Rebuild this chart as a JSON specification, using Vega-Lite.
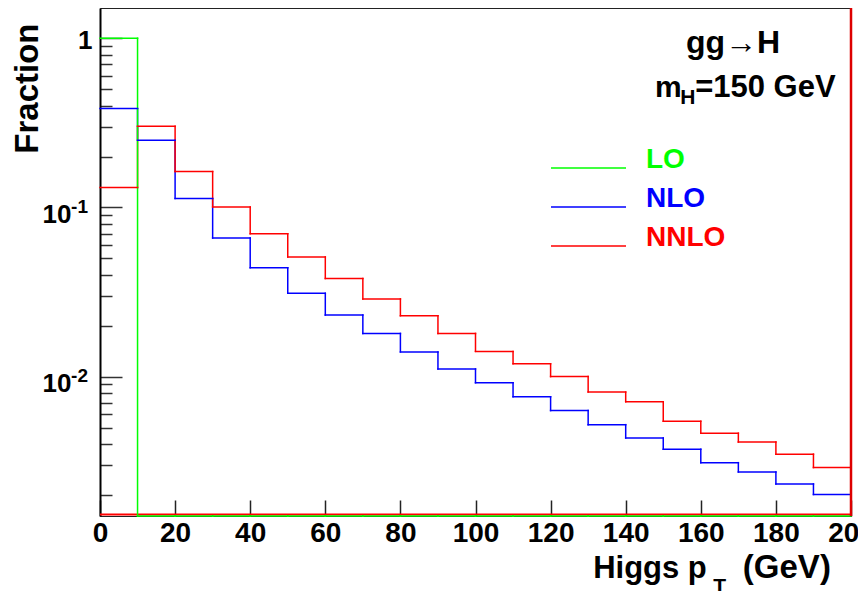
{
  "$schema": "https://vega.github.io/schema/vega-lite/v6.json",
  "width": 751,
  "height": 508,
  "autosize": {"type": "none"},
  "padding": {"left": 100, "top": 8, "right": 7, "bottom": 75},
  "background": "white",
  "config": {"view": {"stroke": "#222", "strokeWidth": 1}, "font": "Liberation Sans"},
  "data": {"values": [
    {"series": "NLO", "lo": 0, "hi": 10, "value": 0.384},
    {"series": "NLO", "lo": 10, "hi": 20, "value": 0.25},
    {"series": "NLO", "lo": 20, "hi": 30, "value": 0.113},
    {"series": "NLO", "lo": 30, "hi": 40, "value": 0.066},
    {"series": "NLO", "lo": 40, "hi": 50, "value": 0.044},
    {"series": "NLO", "lo": 50, "hi": 60, "value": 0.0311},
    {"series": "NLO", "lo": 60, "hi": 70, "value": 0.0231},
    {"series": "NLO", "lo": 70, "hi": 80, "value": 0.018},
    {"series": "NLO", "lo": 80, "hi": 90, "value": 0.014},
    {"series": "NLO", "lo": 90, "hi": 100, "value": 0.0111},
    {"series": "NLO", "lo": 100, "hi": 110, "value": 0.0092},
    {"series": "NLO", "lo": 110, "hi": 120, "value": 0.0076},
    {"series": "NLO", "lo": 120, "hi": 130, "value": 0.0063},
    {"series": "NLO", "lo": 130, "hi": 140, "value": 0.0052},
    {"series": "NLO", "lo": 140, "hi": 150, "value": 0.00434},
    {"series": "NLO", "lo": 150, "hi": 160, "value": 0.00372},
    {"series": "NLO", "lo": 160, "hi": 170, "value": 0.0031},
    {"series": "NLO", "lo": 170, "hi": 180, "value": 0.00273},
    {"series": "NLO", "lo": 180, "hi": 190, "value": 0.00232},
    {"series": "NLO", "lo": 190, "hi": 200, "value": 0.00201},
    {"series": "NNLO", "lo": 0, "hi": 10, "value": 0.131},
    {"series": "NNLO", "lo": 10, "hi": 20, "value": 0.302},
    {"series": "NNLO", "lo": 20, "hi": 30, "value": 0.163},
    {"series": "NNLO", "lo": 30, "hi": 40, "value": 0.1007},
    {"series": "NNLO", "lo": 40, "hi": 50, "value": 0.07},
    {"series": "NNLO", "lo": 50, "hi": 60, "value": 0.051},
    {"series": "NNLO", "lo": 60, "hi": 70, "value": 0.038},
    {"series": "NNLO", "lo": 70, "hi": 80, "value": 0.0288},
    {"series": "NNLO", "lo": 80, "hi": 90, "value": 0.0229},
    {"series": "NNLO", "lo": 90, "hi": 100, "value": 0.018},
    {"series": "NNLO", "lo": 100, "hi": 110, "value": 0.0141},
    {"series": "NNLO", "lo": 110, "hi": 120, "value": 0.0119},
    {"series": "NNLO", "lo": 120, "hi": 130, "value": 0.01},
    {"series": "NNLO", "lo": 130, "hi": 140, "value": 0.0081},
    {"series": "NNLO", "lo": 140, "hi": 150, "value": 0.0071},
    {"series": "NNLO", "lo": 150, "hi": 160, "value": 0.00545},
    {"series": "NNLO", "lo": 160, "hi": 170, "value": 0.00463},
    {"series": "NNLO", "lo": 170, "hi": 180, "value": 0.0041},
    {"series": "NNLO", "lo": 180, "hi": 190, "value": 0.00348},
    {"series": "NNLO", "lo": 190, "hi": 200, "value": 0.0029},
    {"series": "LO", "lo": 0, "hi": 10, "value": 1.0},
    {"series": "LO", "lo": 10, "hi": 20, "value": 0},
    {"series": "LO", "lo": 20, "hi": 30, "value": 0},
    {"series": "LO", "lo": 30, "hi": 40, "value": 0},
    {"series": "LO", "lo": 40, "hi": 50, "value": 0},
    {"series": "LO", "lo": 50, "hi": 60, "value": 0},
    {"series": "LO", "lo": 60, "hi": 70, "value": 0},
    {"series": "LO", "lo": 70, "hi": 80, "value": 0},
    {"series": "LO", "lo": 80, "hi": 90, "value": 0},
    {"series": "LO", "lo": 90, "hi": 100, "value": 0},
    {"series": "LO", "lo": 100, "hi": 110, "value": 0},
    {"series": "LO", "lo": 110, "hi": 120, "value": 0},
    {"series": "LO", "lo": 120, "hi": 130, "value": 0},
    {"series": "LO", "lo": 130, "hi": 140, "value": 0},
    {"series": "LO", "lo": 140, "hi": 150, "value": 0},
    {"series": "LO", "lo": 150, "hi": 160, "value": 0},
    {"series": "LO", "lo": 160, "hi": 170, "value": 0},
    {"series": "LO", "lo": 170, "hi": 180, "value": 0},
    {"series": "LO", "lo": 180, "hi": 190, "value": 0},
    {"series": "LO", "lo": 190, "hi": 200, "value": 0}
  ]},
  "layer": [
    {
      "data": {"values": [{}]},
      "mark": {"type": "rule", "color": "#ff0000", "strokeWidth": 2, "yOffset": -1.5},
      "encoding": {
        "y": {"datum": 0.0015, "type": "quantitative", "scale": {"type": "log", "domain": [0.0015, 1.51], "nice": false, "clamp": true},
          "axis": {
            "values": [0.002, 0.003, 0.004, 0.005, 0.006, 0.007, 0.008, 0.009, 0.01, 0.02, 0.03, 0.04, 0.05, 0.06, 0.07, 0.08, 0.09, 0.1, 0.2, 0.3, 0.4, 0.5, 0.6, 0.7, 0.8, 0.9, 1],
            "labelExpr": "datum.value == 1 ? '1' : (datum.value == 0.1 || datum.value == 0.01 ? '10' : '')",
            "tickSize": {"condition": {"test": "datum.value == 1 || datum.value == 0.1 || datum.value == 0.01", "value": -22}, "value": -12},
            "tickColor": "#333", "tickWidth": 1.5,
            "domainColor": "#000", "domainWidth": 2,
            "grid": false,
            "labelFont": "Liberation Sans", "labelFontSize": 26, "labelFontWeight": "bold", "labelColor": "#000",
            "labelPadding": {"condition": {"test": "datum.value == 1", "value": 30}, "value": 51},
            "labelOffset": {"condition": {"test": "datum.value == 1", "value": 2.5}, "value": 7},
            "labelBaseline": "middle",
            "title": "Fraction", "titleFont": "Liberation Sans", "titleFontSize": 33, "titleFontWeight": "bold", "titleColor": "#000",
            "titleAngle": -90, "titleAlign": "right", "titleBaseline": "alphabetic", "titleX": -63, "titleY": 15
          }
        }
      }
    },
    {
      "transform": [
        {"window": [{"op": "lag", "field": "value", "as": "prev"}], "groupby": ["series"], "sort": [{"field": "lo", "order": "ascending"}]},
        {"filter": "datum.prev != null"}
      ],
      "mark": {"type": "rule", "strokeWidth": 1.5, "invalid": "show", "strokeCap": "square"},
      "encoding": {
        "x": {"field": "lo", "type": "quantitative", "scale": {"domain": [0, 200], "nice": false, "zero": false},
          "axis": {
            "values": [0, 5, 10, 15, 20, 25, 30, 35, 40, 45, 50, 55, 60, 65, 70, 75, 80, 85, 90, 95, 100, 105, 110, 115, 120, 125, 130, 135, 140, 145, 150, 155, 160, 165, 170, 175, 180, 185, 190, 195, 200],
            "labelExpr": "datum.value % 20 == 0 ? format(datum.value, 'd') : ''",
            "tickSize": {"condition": {"test": "datum.value % 20 == 0", "value": -16}, "value": -8},
            "tickColor": "#222", "tickWidth": 1.5,
            "domain": false, "grid": false,
            "labelFont": "Liberation Sans", "labelFontSize": 28, "labelFontWeight": "bold", "labelColor": "#000",
            "labelPadding": 19, "labelFlush": false, "labelOverlap": false,
            "title": null
          }
        },
        "y": {"field": "prev", "type": "quantitative"},
        "y2": {"field": "value"},
        "color": {"field": "series", "type": "nominal", "scale": {"domain": ["LO", "NLO", "NNLO"], "range": ["#00ff00", "#0000ff", "#ff0000"]},
          "legend": {
            "orient": "none", "legendX": 450, "legendY": 146, "title": null,
            "symbolType": "stroke", "symbolSize": 5625, "symbolStrokeWidth": 1.5,
            "labelFont": "Liberation Sans", "labelFontSize": 28, "labelFontWeight": "bold", "labelBaseline": "alphabetic",
            "labelOffset": 19, "clipHeight": 28, "rowPadding": 3, "padding": 0,
            "encode": {"labels": {"update": {"fill": {"scale": "color", "field": "value"}}}}
          }
        }
      }
    },
    {
      "mark": {"type": "rule", "strokeWidth": 1.5, "invalid": "show", "strokeCap": "square"},
      "encoding": {
        "x": {"field": "lo", "type": "quantitative"},
        "x2": {"field": "hi"},
        "y": {"field": "value", "type": "quantitative"},
        "color": {"field": "series", "type": "nominal"}
      }
    },
    {
      "data": {"values": [{}]},
      "mark": {"type": "rule", "color": "#dd0000", "strokeWidth": 2.5},
      "encoding": {"x": {"datum": 200, "type": "quantitative"}}
    },
    {
      "data": {"values": [{}]},
      "mark": {"type": "text", "text": "-1", "font": "Liberation Sans", "fontSize": 19, "fontWeight": "bold", "align": "right", "baseline": "alphabetic", "color": "#000", "dx": -12, "dy": 6},
      "encoding": {"x": {"datum": 0, "type": "quantitative"}, "y": {"datum": 0.1, "type": "quantitative"}}
    },
    {
      "data": {"values": [{}]},
      "mark": {"type": "text", "text": "-2", "font": "Liberation Sans", "fontSize": 19, "fontWeight": "bold", "align": "right", "baseline": "alphabetic", "color": "#000", "dx": -12, "dy": 5},
      "encoding": {"x": {"datum": 0, "type": "quantitative"}, "y": {"datum": 0.01, "type": "quantitative"}}
    },
    {
      "data": {"values": [{}]},
      "mark": {"type": "text", "text": "gg→H", "font": "Liberation Sans", "fontSize": 32, "fontWeight": "bold", "align": "center", "baseline": "alphabetic", "color": "#000"},
      "encoding": {"x": {"datum": 168.6, "type": "quantitative"}, "y": {"datum": 0.815, "type": "quantitative"}}
    },
    {
      "data": {"values": [{}]},
      "mark": {"type": "text", "text": "m", "font": "Liberation Sans", "fontSize": 30, "fontWeight": "bold", "align": "left", "baseline": "alphabetic", "color": "#000"},
      "encoding": {"x": {"datum": 147.8, "type": "quantitative"}, "y": {"datum": 0.452, "type": "quantitative"}}
    },
    {
      "data": {"values": [{}]},
      "mark": {"type": "text", "text": "H", "font": "Liberation Sans", "fontSize": 21, "fontWeight": "bold", "align": "left", "baseline": "alphabetic", "color": "#000"},
      "encoding": {"x": {"datum": 154.5, "type": "quantitative"}, "y": {"datum": 0.411, "type": "quantitative"}}
    },
    {
      "data": {"values": [{}]},
      "mark": {"type": "text", "text": "=150 GeV", "font": "Liberation Sans", "fontSize": 31, "fontWeight": "bold", "align": "left", "baseline": "alphabetic", "color": "#000"},
      "encoding": {"x": {"datum": 158.5, "type": "quantitative"}, "y": {"datum": 0.452, "type": "quantitative"}}
    },
    {
      "data": {"values": [{}]},
      "mark": {"type": "text", "text": "Higgs p", "font": "Liberation Sans", "fontSize": 31, "fontWeight": "bold", "align": "right", "baseline": "alphabetic", "color": "#000", "dy": 62},
      "encoding": {"x": {"datum": 161.6, "type": "quantitative"}, "y": {"datum": 0.0015, "type": "quantitative"}}
    },
    {
      "data": {"values": [{}]},
      "mark": {"type": "text", "text": "T", "font": "Liberation Sans", "fontSize": 21, "fontWeight": "bold", "align": "left", "baseline": "alphabetic", "color": "#000", "dy": 77},
      "encoding": {"x": {"datum": 163.3, "type": "quantitative"}, "y": {"datum": 0.0015, "type": "quantitative"}}
    },
    {
      "data": {"values": [{}]},
      "mark": {"type": "text", "text": "(GeV)", "font": "Liberation Sans", "fontSize": 33, "fontWeight": "bold", "align": "left", "baseline": "alphabetic", "color": "#000", "dy": 62},
      "encoding": {"x": {"datum": 171.2, "type": "quantitative"}, "y": {"datum": 0.0015, "type": "quantitative"}}
    }
  ]
}
